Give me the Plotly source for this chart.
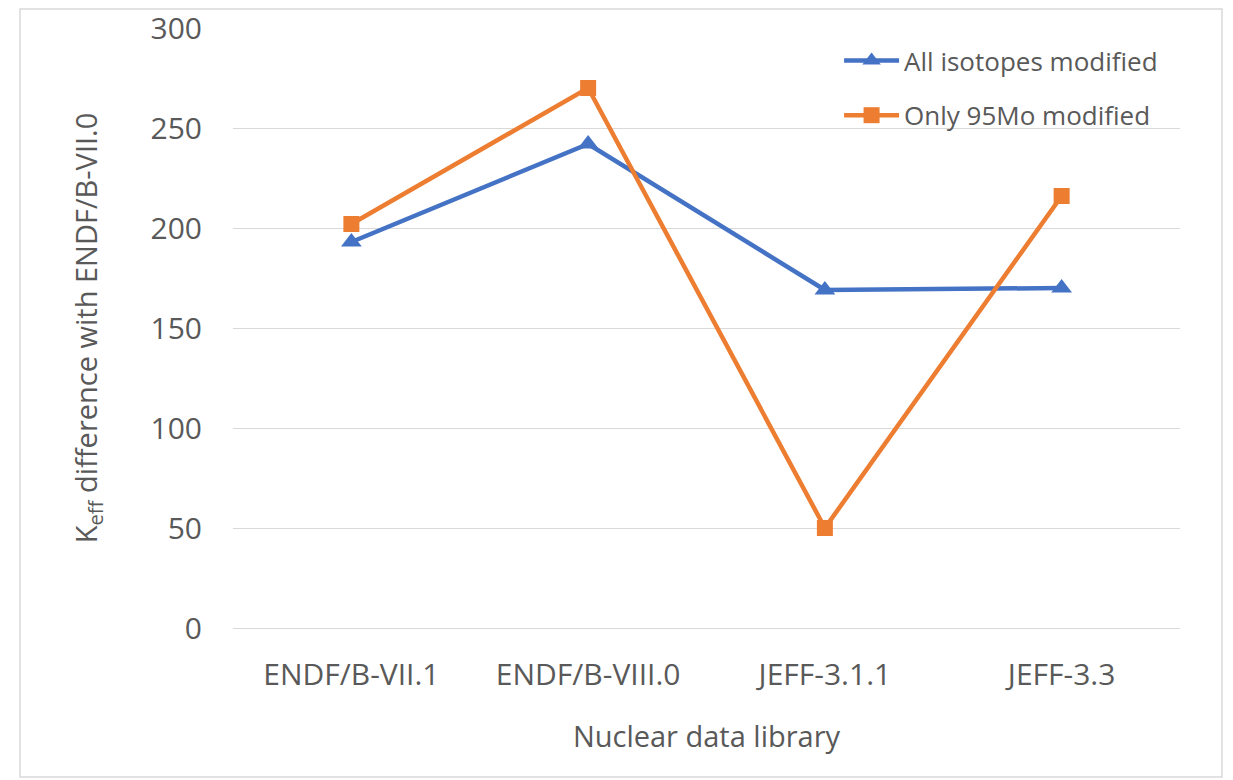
import plotly.graph_objects as go

categories = ["ENDF/B-VII.1", "ENDF/B-VIII.0", "JEFF-3.1.1", "JEFF-3.3"]
all_isotopes = [193, 242, 169, 170]
only_95mo = [202, 270, 50, 216]
y_ticks = [0, 50, 100, 150, 200, 250, 300]

FONT = "Open Sans"
GRAY = "#595959"

fig = go.Figure()
fig.add_trace(go.Scatter(
    x=categories, y=all_isotopes, mode="lines+markers", name="All isotopes modified",
    line=dict(color="#4472C4", width=4.5),
    marker=dict(symbol="triangle-up", size=18, color="#4472C4"),
    legendgroup="a",
))
fig.add_trace(go.Scatter(
    x=categories, y=only_95mo, mode="lines+markers", name="Only 95Mo modified",
    line=dict(color="#ED7D31", width=4.5),
    marker=dict(symbol="square", size=16, color="#ED7D31"),
    legendgroup="b",
))

# page has an 8px body margin; compensate so plot area sits at x 233..1180, y 28..628
fig.update_layout(
    width=1225, height=772,
    margin=dict(l=225, r=53, t=20, b=152, autoexpand=False),
    paper_bgcolor="white", plot_bgcolor="white",
    font=dict(family=FONT, color=GRAY, size=26),
    showlegend=True,
    legend=dict(x=0.64, y=0.985, xanchor="left", yanchor="top",
                font=dict(size=26, color=GRAY), tracegroupgap=18,
                itemwidth=55, bgcolor="rgba(0,0,0,0)"),
    xaxis=dict(
        type="category", range=[-0.5, 3.5], showgrid=False, showline=False,
        ticks="", ticklabelstandoff=26, zeroline=False, automargin=False,
        title=dict(text="Nuclear data library", font=dict(size=29, color=GRAY), standoff=33),
        tickfont=dict(size=30, color=GRAY),
    ),
    yaxis=dict(
        range=[0, 300], tickvals=y_ticks, showgrid=True, gridcolor="#D9D9D9", gridwidth=1.3,
        zeroline=True, zerolinecolor="#D9D9D9", zerolinewidth=1.3, showline=False,
        ticks="", ticklabelstandoff=30, ticklabeloverflow="allow", automargin=False,
        title=dict(text="K<sub>eff</sub> difference with ENDF/B-VII.0", font=dict(size=29, color=GRAY), standoff=44),
        tickfont=dict(size=30, color=GRAY),
    ),
)

fig.add_shape(type="rect", xref="paper", yref="paper",
              x0=(20 - 233) / 947, x1=(1222 - 233) / 947,
              y0=(628 - 777) / 600, y1=(628 - 9) / 600,
              line=dict(color="#D9D9D9", width=1.5), layer="below")

fig.write_html("out.html")
